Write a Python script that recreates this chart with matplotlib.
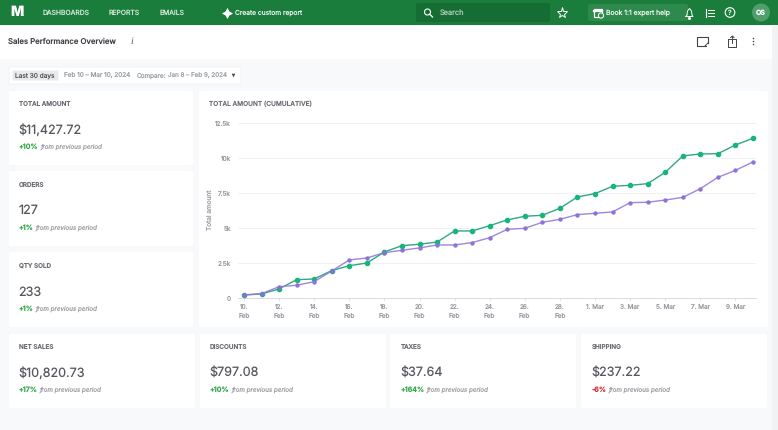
import matplotlib
matplotlib.use('Agg')
import matplotlib.pyplot as plt
from matplotlib.patches import FancyBboxPatch, Rectangle, Circle

plt.rcParams['font.family'] = ['Inter', 'DejaVu Sans']
plt.rcParams['text.hinting'] = 'none'
plt.rcParams['text.hinting_factor'] = 1

# chart data, values in thousands
tick_days = list(range(0, 30, 2))
tick_labels = ['10.\nFeb', '12.\nFeb', '14.\nFeb', '16.\nFeb', '18.\nFeb', '20.\nFeb', '22.\nFeb',
               '24.\nFeb', '26.\nFeb', '28.\nFeb', '1. Mar', '3. Mar', '5. Mar', '7. Mar', '9. Mar']
days = list(range(30))
current = [0.24, 0.31, 0.67, 1.33, 1.38, 1.98, 2.33, 2.52, 3.31, 3.76, 3.86, 4.02, 4.81, 4.81, 5.19,
           5.60, 5.86, 5.93, 6.43, 7.24, 7.48, 8.00, 8.07, 8.19, 9.00, 10.17, 10.31, 10.33, 10.95, 11.43]
previous = [0.24, 0.33, 0.83, 0.93, 1.19, 1.95, 2.74, 2.88, 3.26, 3.43, 3.60, 3.81, 3.81, 3.98, 4.33,
            4.93, 5.00, 5.43, 5.64, 5.98, 6.07, 6.17, 6.83, 6.86, 7.02, 7.21, 7.83, 8.64, 9.14, 9.74]
y_ticks = [0, 2.5, 5, 7.5, 10, 12.5]
y_labels = ['0', '2.5k', '5k', '7.5k', '10k', '12.5k']

# kpi cards
side_titles = ['TOTAL AMOUNT', 'ORDERS', 'QTY SOLD']
side_values = ['$11,427.72', '127', '233']
side_deltas = ['+10%', '+1%', '+1%']
bottom_titles = ['NET SALES', 'DISCOUNTS', 'TAXES', 'SHIPPING']
bottom_values = ['$10,820.73', '$797.08', '$37.64', '$237.22']
bottom_deltas = ['+17%', '+10%', '+164%', '-6%']
nav_labels = ['DASHBOARDS', 'REPORTS', 'EMAILS']

GREEN = '#1a7d3b'
TXT = '#55585e'
GREY = '#9fa2a7'
TITLE = '#6a6d73'

fig = plt.figure(figsize=(7.78, 4.30), dpi=100, facecolor='#f8f9fb')
bg = fig.add_axes([0, 0, 1, 1])
bg.set_xlim(0, 778)
bg.set_ylim(430, 0)
bg.axis('off')


def card(x, y, w, h):
    bg.add_patch(FancyBboxPatch((x + 2, y + 2), w - 4, h - 4, boxstyle='round,pad=2', fc='white', ec='none'))


def kpi(x, y, title, value, delta):
    bg.text(x, y + 12, title, fontsize=4.55, color=TITLE, weight='medium', va='center')
    bg.text(x - 0.5, y + 38, value, fontsize=9.05, color=TXT, va='center')
    col = '#d92b35' if delta.startswith('-') else '#35a84b'
    t = bg.text(x, y + 55, delta, fontsize=5.1, color=col, weight='semibold', va='center')
    fig.canvas.draw()
    end = t.get_window_extent().x1
    bg.text(end + 2, y + 55, 'from previous period', fontsize=4.5, color=GREY, style='italic', va='center')


# header bars
bg.add_patch(Rectangle((0, 0), 778, 25, fc=GREEN, ec='none'))
bg.add_patch(Rectangle((0, 25.5), 772, 33, fc='white', ec='none'))
bg.add_patch(Rectangle((772, 26), 6, 404, fc='#f1f2f3', ec='none'))
bg.text(17, 12.5, 'M', fontsize=10, color='white', weight='black', ha='center', va='center')
for label, x in zip(nav_labels, [43, 109, 160]):
    bg.text(x, 12.5, label, fontsize=4.9, color='#d4e8da', va='center')
bg.plot([227], [12.5], marker=(4, 1, 0), ms=8, color='white', mew=0)
bg.text(235.5, 12.5, 'Create custom report', fontsize=4.8, color='#eef6f0', va='center')

# search box and right hand icons
bg.add_patch(FancyBboxPatch((418, 5), 130, 15, boxstyle='round,pad=2', fc='#166d33', ec='none'))
bg.add_patch(Circle((427.5, 12), 3, fc='none', ec='white', lw=0.8))
bg.plot([429.8, 432.5], [14.3, 17], color='white', lw=0.9)
bg.text(440, 12.5, 'Search', fontsize=5.3, color='#a9cdb5', va='center')
bg.plot([562], [12.5], marker='*', ms=8, mfc='none', mec='white', mew=0.7)
bg.add_patch(FancyBboxPatch((590, 6), 96, 13, boxstyle='round,pad=2', fc='#2d8a4c', ec='none'))
bg.add_patch(Rectangle((594.5, 9), 8, 8, fc='none', ec='white', lw=0.9))
bg.plot([594.5, 602.5], [10.5, 10.5], color='white', lw=1.6)
bg.add_patch(Circle((601, 15.5), 2.6, fc='#2d8a4c', ec='white', lw=0.7))
bg.text(606, 12.5, 'Book 1:1 expert help', fontsize=4.9, color='#eef6f0', va='center')
# bell
bg.plot([686, 687, 687.5, 689.5, 691.5, 692, 693, 686], [16.5, 15, 11, 8.5, 11, 15, 16.5, 16.5], color='white', lw=0.7)
bg.plot([689.5], [18], marker='o', ms=1.2, color='white')
bg.plot([706, 706], [9, 17], color='white', lw=0.8)
for yy in [10, 13, 16]:
    bg.plot([708, 714], [yy, yy], color='white', lw=0.7)
bg.add_patch(Circle((730, 12.5), 4.8, fc='none', ec='white', lw=0.8))
bg.text(730, 12.7, '?', fontsize=5, color='white', ha='center', va='center')
bg.add_patch(Circle((761, 12.5), 9, fc='#4f9e6b', ec='none'))
bg.text(761, 12.7, 'OS', fontsize=5, color='white', weight='bold', ha='center', va='center')

# page title row
bg.text(8, 41.5, 'Sales Performance Overview', fontsize=5.6, color='#3f4247', weight='medium', va='center')
bg.text(131.5, 41.5, 'i', fontsize=7.5, color='#555555', style='italic', ha='center', va='center', family='Liberation Serif')
bg.plot([706, 697.5, 697.5, 708, 708], [46, 46, 37, 37, 43], color='#444444', lw=0.8)
bg.plot([705, 708], [46, 43], color='#444444', lw=0.7)
bg.plot([731, 728.5, 728.5, 736, 736, 733.5], [39, 39, 46.5, 46.5, 39, 39], color='#444444', lw=0.7)
bg.plot([732.3, 732.3], [36, 42.5], color='#444444', lw=0.7)
bg.plot([730.6, 732.3, 734], [37.6, 36, 37.6], color='#444444', lw=0.7)
for yy in [38.3, 41, 43.7]:
    bg.plot([752.7], [yy], marker='o', ms=1.1, color='#444444', mew=0)

# date filter
bg.add_patch(FancyBboxPatch((10, 68), 230, 15, boxstyle='round,pad=1', fc='white', ec='#eceef1', lw=0.5))
bg.add_patch(FancyBboxPatch((13, 71), 45, 9, boxstyle='round,pad=0.5', fc='#e9eaec', ec='none'))
bg.text(15.5, 77.3, 'Last 30 days', fontsize=4.7, color=TXT, va='baseline')
bg.text(64, 77.3, 'Feb 10 – Mar 10, 2024', fontsize=4.6, color=GREY, va='baseline')
bg.text(137, 77.3, 'Compare:', fontsize=4.6, color=GREY, va='baseline')
bg.text(168, 77.3, 'Jan 8 – Feb 9, 2024', fontsize=4.5, color=GREY, va='baseline')
bg.plot([233.5], [75.2], marker='v', ms=2.6, color='#444444', mew=0)

# cards
card(9, 91, 184, 74)
card(9, 171, 184, 75)
card(9, 252, 184, 75)
for x in [9, 200, 390, 581]:
    card(x, 334, 186, 74)
for y, t, v, d in zip([92, 173, 254], side_titles, side_values, side_deltas):
    kpi(19, y, t, v, d)
for x, t, v, d in zip([19, 210, 401, 592], bottom_titles, bottom_values, bottom_deltas):
    kpi(x, 335, t, v, d)
card(199, 91, 569, 236)
bg.text(209, 104, 'TOTAL AMOUNT (CUMULATIVE)', fontsize=4.7, color=TITLE, weight='medium', va='center')

# line chart
ax = fig.add_axes([238 / 778, (430 - 298.3) / 430, 518 / 778, 175 / 430])
ax.patch.set_alpha(0)
ax.set_xlim(-0.34, 29.17)
ax.set_ylim(0, 12.5)
ax.plot(days, current, color='#2fa883', lw=1.0, marker='o', ms=3.0, mfc='#17b57c', mec='#17b57c', clip_on=False, zorder=3)
ax.plot(days, previous, color='#9479dc', lw=1.0, marker='o', ms=2.2, mfc='#8a6fd8', mec='#8a6fd8', clip_on=False, zorder=4, alpha=0.9)
ax.set_yticks(y_ticks)
ax.set_yticklabels(y_labels)
ax.set_xticks(tick_days)
ax.set_xticklabels(tick_labels, linespacing=1.45, va='top')
ax.grid(axis='y', color='#eff1f4', lw=0.7)
ax.set_axisbelow(True)
ax.tick_params(axis='y', length=0, labelsize=4.6, labelcolor='#9a9da2', pad=5)
ax.tick_params(axis='x', length=2.5, width=0.5, color='#d9dce0', labelsize=4.6, labelcolor='#9a9da2', pad=1.5)
for s in ['top', 'right', 'left']:
    ax.spines[s].set_visible(False)
ax.spines['bottom'].set_color('#d9dce0')
ax.spines['bottom'].set_linewidth(0.7)
ax.set_ylabel('Total amount', fontsize=4.7, color='#9a9da2')
ax.yaxis.set_label_coords(-0.048, 0.505)

fig.savefig('out.png', dpi=100)
